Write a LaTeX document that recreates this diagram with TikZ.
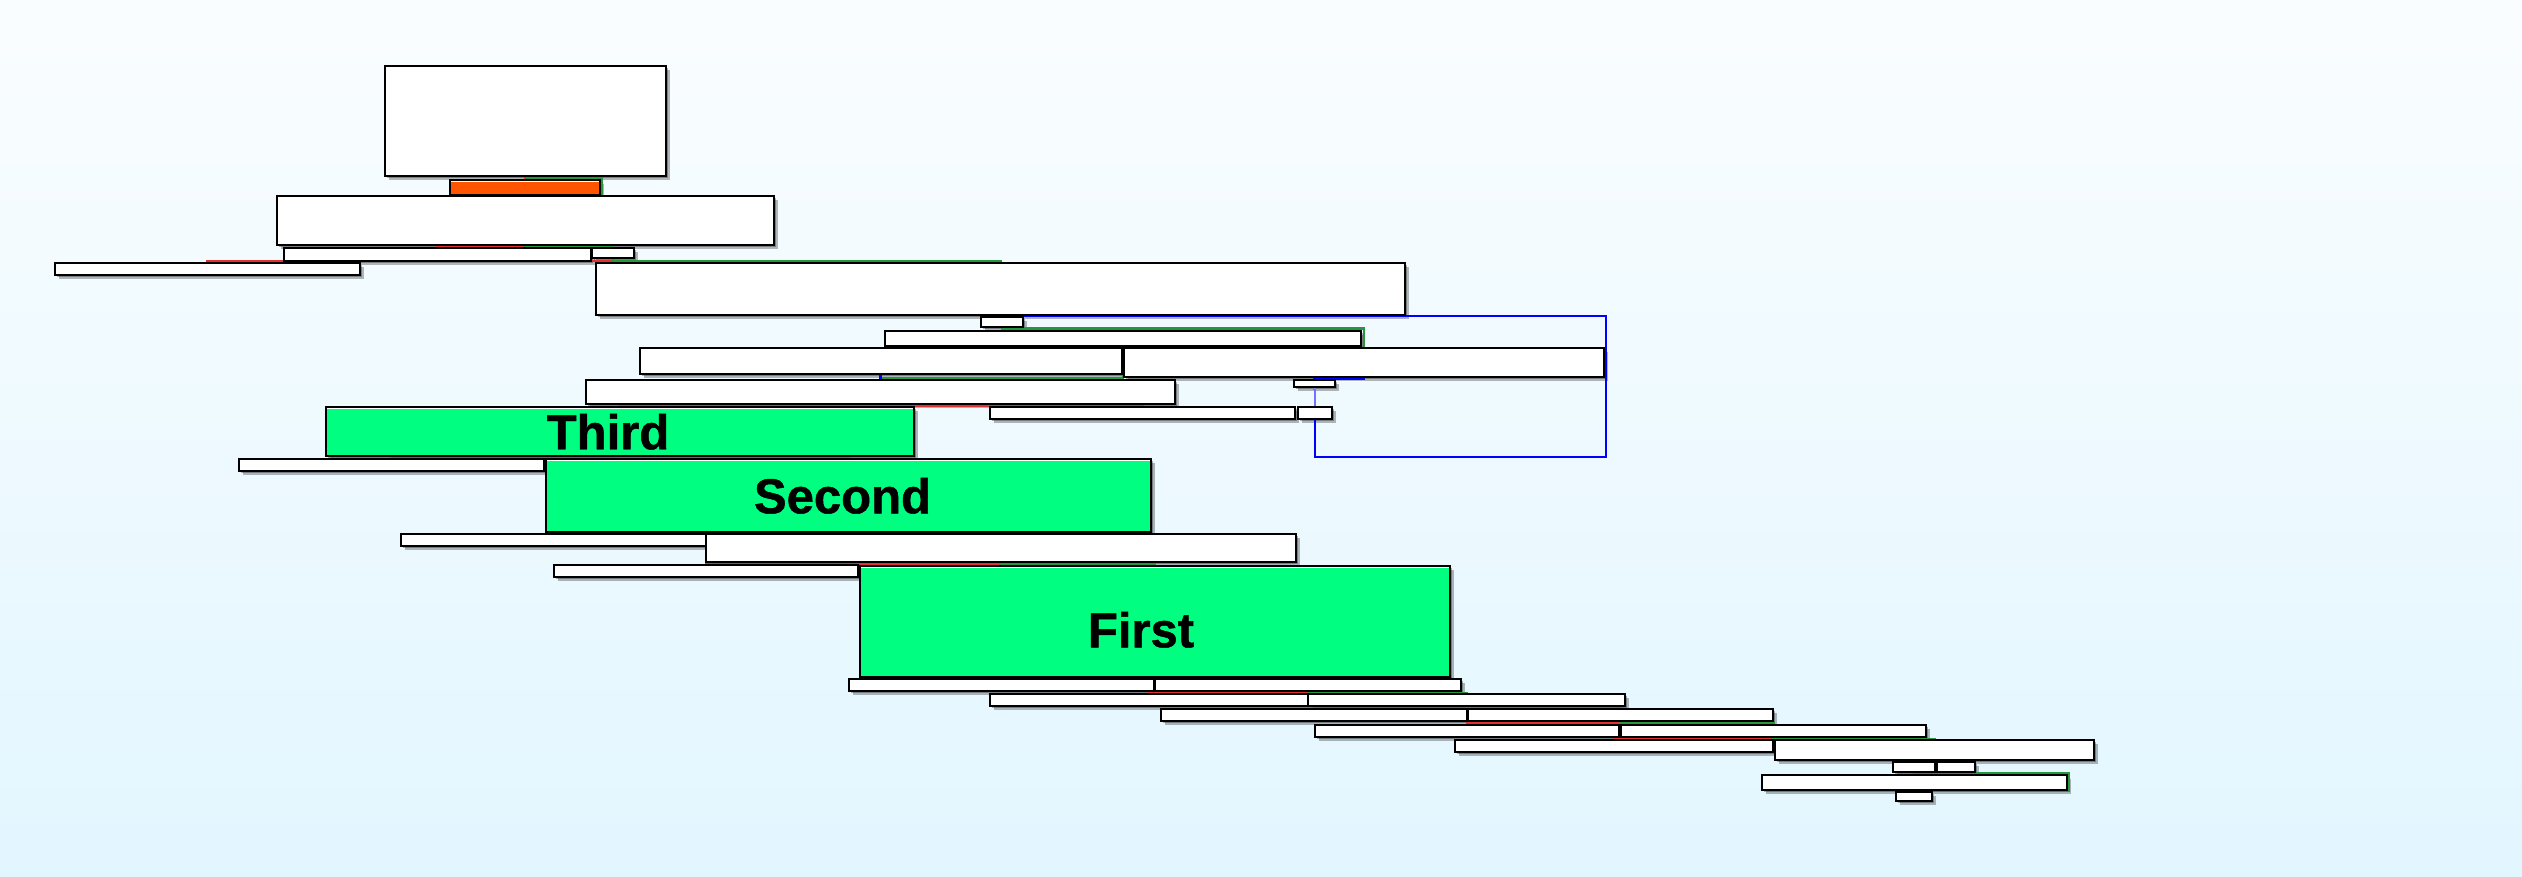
\documentclass[tikz,border=0pt]{standalone}
\usepackage{fontspec}
\setmainfont{Liberation Sans}
\newfontfamily\tagfont{Liberation Sans}[BoldFeatures={FakeBold=1}]
\usepackage{xcolor}
\usetikzlibrary{calc, positioning, backgrounds}

\pgfdeclarelayer{shade}
\pgfdeclarelayer{wires}
\pgfsetlayers{background,shade,wires,main}

\definecolor{nodegreen}{RGB}{0,255,128}
\definecolor{nodeorange}{RGB}{255,85,0}
\definecolor{lowred}{RGB}{225,50,50}
\definecolor{highgreen}{RGB}{40,150,60}
\definecolor{skytop}{RGB}{250,253,255}
\definecolor{skybottom}{RGB}{226,246,255}

%text moved inside its box: x shift, y shift, text
\newcommand{\offtext}[3]{\raisebox{#2}[\height][0pt]{\hspace*{#1}#3\hspace*{-#1}}}

\tikzset{blk/.style={rectangle, draw=black, line width=0.6pt, fill=white, inner sep=0pt, outer sep=0pt},
%box given by its two corners, in pixels
corners/.style n args={4}{minimum width={(#3-#1)*0.5pt}, minimum height={(#4-#2)*0.5pt},
  at={(0.5*#1+0.5*#3, 0.5*#2+0.5*#4)}},
shine/.style={path picture={\fill[white] (path picture bounding box.north west) rectangle ([yshift=-1.1pt]path picture bounding box.north east);}},
hot/.style={blk, fill=nodeorange, shine},
picked/.style={blk, fill=nodegreen, shine, font=\tagfont\bfseries\fontsize{24.5}{28}\selectfont},
%edges leave just under the bottom of a box and go to the top of the next one
link/.style={line width=1.3pt, to path={(\tikztostart) -- ([yshift=-0.9pt]\tikztostart) -| (\tikztotarget)}},
childlevel/.style={to path={(\tikztostart) |- ([yshift=1pt]\tikztotarget) -- (\tikztotarget)}},
lowlink/.style={link, draw=lowred},
highlink/.style={link, draw=highgreen},
solelink/.style={link, draw=blue}}

\begin{document}
\begin{tikzpicture}[x=0.5pt, y=-0.5pt]

\useasboundingbox (0,0) rectangle (2522,877);

%DRAWING the boxes, top part
  \node[blk, corners={385}{66}{666}{176}] (Blk1) {};
  \node[hot, corners={450}{180}{600}{195}] (Blk2) {};
  \node[blk, corners={277}{196}{774}{245}] (Blk3) {};
  \node[blk, corners={284}{248}{591}{261}] (Blk4) {};
  \node[blk, corners={592}{248}{634}{258}] (Blk5) {};
  \node[blk, corners={55}{263}{360}{275}] (Blk6) {};
  \node[blk, corners={596}{263}{1405}{315}] (Blk7) {};
  \node[blk, corners={981}{317}{1023}{327}] (Blk8) {};
  \node[blk, corners={885}{331}{1361}{346}] (Blk9) {};
  \node[blk, corners={640}{348}{1122}{374}] (Blk10) {};
  \node[blk, corners={1124}{348}{1604}{377}] (Blk11) {};
  \node[blk, corners={1294}{380}{1335}{387}] (Blk12) {};
  \node[blk, corners={586}{380}{1175}{404}] (Blk13) {};
  \node[blk, corners={990}{407}{1295}{419}] (Blk14) {};
  \node[blk, corners={1298}{407}{1332}{419}] (Blk15) {};
  \node[blk, corners={239}{459}{544}{471}] (Blk16) {};
  \node[blk, corners={401}{534}{706}{546}] (Blk17) {};
  \node[blk, corners={706}{534}{1296}{562}] (Blk18) {};
  \node[blk, corners={554}{565}{858}{577}] (Blk19) {};

%The three marked boxes
  \node[picked, corners={326}{407}{914}{456}] (Third) {\offtext{-6pt}{0pt}{Third}};
  \node[picked, corners={546}{459}{1151}{532}] (Second) {\offtext{-3pt}{0pt}{Second}};
  \node[picked, corners={860}{566}{1450}{677}] (First) {\offtext{-7pt}{-4pt}{First}};

%Staircase below First
  \foreach \name/\xa/\ya/\xb/\yb in {Blk20/849/679/1154/691, Blk21/1155/679/1461/691,
    Blk22/990/694/1308/706, Blk23/1308/694/1625/706, Blk24/1161/709/1467/721,
    Blk25/1468/709/1773/721, Blk26/1315/725/1619/737, Blk27/1621/725/1926/737,
    Blk28/1455/740/1773/752, Blk29/1775/740/2094/760, Blk30/1893/762/1935/772,
    Blk31/1937/762/1975/772, Blk32/1762/775/2067/790, Blk33/1896/792/1932/801}
  {\node[blk, corners={\xa}{\ya}{\xb}{\yb}] (\name) {};}

\coordinate (LoopCorner) at (1606,457);

\begin{pgfonlayer}{background}
  \shade[top color=skytop, bottom color=skybottom] (0,0) rectangle (2522,877);
\end{pgfonlayer}

%shadows of all boxes
\begin{pgfonlayer}{shade}
  \foreach \n in {Blk1,Blk2,Blk3,Blk4,Blk5,Blk6,Blk7,Blk8,Blk9,Blk10,Blk11,Blk12,Blk13,Blk14,
    Blk15,Blk16,Blk17,Blk18,Blk19,Blk20,Blk21,Blk22,Blk23,Blk24,Blk25,Blk26,Blk27,Blk28,
    Blk29,Blk30,Blk31,Blk32,Blk33,Third,Second,First}
  {\fill[black, opacity=0.28] ([xshift=2.2pt,yshift=-2.2pt]\n.south west) rectangle ([xshift=2.2pt,yshift=-2.2pt]\n.north east);
   \fill[black, opacity=0.3] ([xshift=1.1pt,yshift=-1.1pt]\n.south west) rectangle ([xshift=1.1pt,yshift=-1.1pt]\n.north east);}
\end{pgfonlayer}

\begin{pgfonlayer}{wires}
%Inserting the red and green edges
  \foreach \a/\b in {Blk1/Blk2, Blk3/Blk4, Blk8/Blk9, Blk9/Blk11, Blk13/Blk14,
    Third/Blk16, Second/Blk17, Blk18/Blk19, First/Blk20, Blk21/Blk22, Blk23/Blk24,
    Blk25/Blk26, Blk27/Blk28, Blk29/Blk30, Blk30/Blk32}
  {\draw[lowlink] (\a.south) to (\b.north);}
  \draw[lowlink, childlevel] (Blk5.south) to (Blk6.north);

  \foreach \a/\b in {Blk3/Blk5, Blk8/Blk11, Blk9/Blk10, Blk13/Third, Third/Second,
    Second/Blk18, Blk18/First, First/Blk21, Blk21/Blk23, Blk23/Blk25, Blk25/Blk27,
    Blk27/Blk29, Blk29/Blk31}
  {\draw[highlink] (\a.south) to (\b.north);}
  \draw[highlink, childlevel] (Blk5.south) to (Blk7.north);
  \draw[highlink, childlevel] (Blk9.south) to (Blk13.north);

  \draw[highlink] ([yshift=-1pt]Blk1.south) -| ([xshift=0.6pt]Blk2.south east) -| (Blk3.north);
  \draw[highlink] (Blk30.south) |- ([xshift=1pt,yshift=1pt]Blk32.north east) |- ([yshift=0.5pt]Blk33.north) -- (Blk33.north);

%Blue edges
  \foreach \a/\b in {Blk2/Blk3, Blk10/Blk13, Blk11/Blk12, Blk32/Blk33}
  {\draw[solelink] (\a.south) to (\b.north);}
  \draw[solelink, draw=blue!55] (Blk12.south) to (Blk15.north);
  \draw[blue, line width=1.2pt] ([yshift=-0.5pt]Blk7.south) -| (LoopCorner) -| (Blk15.south);
\end{pgfonlayer}

\end{tikzpicture}
\end{document}
